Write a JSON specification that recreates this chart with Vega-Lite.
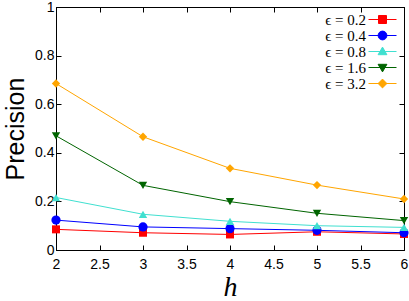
{
  "$schema": "https://vega.github.io/schema/vega-lite/v6.json",
  "width": 348,
  "height": 243,
  "autosize": "none",
  "padding": {"left": 56, "top": 7, "right": 5, "bottom": 51},
  "background": "white",
  "config": {
    "view": {"stroke": "black", "strokeWidth": 1},
    "axis": {
      "grid": false,
      "domainColor": "black",
      "tickColor": "black",
      "tickSize": -5,
      "labelFont": "Liberation Sans",
      "labelFontSize": 14,
      "labelColor": "black",
      "titleColor": "black",
      "titleFontWeight": "normal"
    },
    "legend": {
      "labelFont": "Liberation Serif",
      "labelFontSize": 15,
      "labelColor": "black",
      "padding": 0,
      "rowPadding": 0
    }
  },
  "data": {
    "values": [
      {"h": 2, "eps": "0.2", "precision": 0.085},
      {"h": 3, "eps": "0.2", "precision": 0.071},
      {"h": 4, "eps": "0.2", "precision": 0.064},
      {"h": 5, "eps": "0.2", "precision": 0.075},
      {"h": 6, "eps": "0.2", "precision": 0.066},
      {"h": 2, "eps": "0.4", "precision": 0.123},
      {"h": 3, "eps": "0.4", "precision": 0.095},
      {"h": 4, "eps": "0.4", "precision": 0.088},
      {"h": 5, "eps": "0.4", "precision": 0.081},
      {"h": 6, "eps": "0.4", "precision": 0.071},
      {"h": 2, "eps": "0.8", "precision": 0.216},
      {"h": 3, "eps": "0.8", "precision": 0.147},
      {"h": 4, "eps": "0.8", "precision": 0.118},
      {"h": 5, "eps": "0.8", "precision": 0.100},
      {"h": 6, "eps": "0.8", "precision": 0.093},
      {"h": 2, "eps": "1.6", "precision": 0.470},
      {"h": 3, "eps": "1.6", "precision": 0.266},
      {"h": 4, "eps": "1.6", "precision": 0.199},
      {"h": 5, "eps": "1.6", "precision": 0.151},
      {"h": 6, "eps": "1.6", "precision": 0.121},
      {"h": 2, "eps": "3.2", "precision": 0.685},
      {"h": 3, "eps": "3.2", "precision": 0.466},
      {"h": 4, "eps": "3.2", "precision": 0.336},
      {"h": 5, "eps": "3.2", "precision": 0.267},
      {"h": 6, "eps": "3.2", "precision": 0.210}
    ]
  },
  "layer": [
    {
      "mark": {"type": "line", "strokeWidth": 1},
      "encoding": {
        "x": {
          "field": "h", "type": "quantitative",
          "scale": {"domain": [2, 6], "nice": false},
          "axis": {
            "orient": "bottom",
            "values": [2, 2.5, 3, 3.5, 4, 4.5, 5, 5.5, 6],
            "format": "~g",
            "labelPadding": 12,
            "labelFlush": false,
            "title": "h",
            "titleFont": "Liberation Serif",
            "titleFontStyle": "italic",
            "titleFontSize": 28,
            "titlePadding": 2
          }
        },
        "y": {
          "field": "precision", "type": "quantitative",
          "scale": {"domain": [0, 1], "nice": false},
          "axis": {
            "orient": "left",
            "values": [0, 0.2, 0.4, 0.6, 0.8, 1],
            "format": "~g",
            "labelPadding": 7,
            "labelFlush": false,
            "title": "Precision",
            "titleFont": "Liberation Sans",
            "titleFontSize": 25,
            "titlePadding": 6
          }
        },
        "color": {
          "field": "eps", "type": "nominal",
          "scale": {"domain": ["0.2", "0.4", "0.8", "1.6", "3.2"], "range": ["#ff0000", "#0000ff", "#40e0d0", "#006400", "#ffa500"]},
          "legend": {
            "orient": "top-right",
            "offset": 5,
            "title": null,
            "symbolSize": 64,
            "labelAlign": "right",
            "labelOffset": -24,
            "labelFont": "Liberation Serif",
            "labelFontSize": 15,
            "labelExpr": "'ϵ = ' + datum.label",
            "encode": {
              "symbols": {
                "update": {
                  "shape": {"signal": "datum.value === '0.2' ? 'M-3.5,0H3.5M-1,-1H1V1H-1Z' : datum.value === '0.4' ? 'M-3.5,0H3.5M1.1,0A1.1,1.1 0 1,1 -1.1,0A1.1,1.1 0 1,1 1.1,0Z' : datum.value === '0.8' ? 'M-3.5,0H3.5M0,-1.1L1.1,0.8L-1.1,0.8Z' : datum.value === '1.6' ? 'M-3.5,0H3.5M0,1.1L1.1,-0.8L-1.1,-0.8Z' : 'M-3.5,0H3.5M0,-1.1L1.1,0L0,1.1L-1.1,0Z'"},
                  "size": {"value": 64},
                  "fill": {"signal": "scale('color', datum.value)"},
                  "stroke": {"signal": "scale('color', datum.value)"},
                  "strokeWidth": {"value": 1},
                  "opacity": {"value": 1}
                }
              }
            }
          }
        }
      }
    },
    {
      "transform": [{"filter": "datum.eps === '0.2'"}],
      "mark": {"type": "point", "filled": true, "shape": "square", "size": 64, "opacity": 1},
      "encoding": {
        "x": {"field": "h", "type": "quantitative", "axis": {"orient": "top", "values": [2, 2.5, 3, 3.5, 4, 4.5, 5, 5.5, 6], "labels": false, "title": null}},
        "y": {"field": "precision", "type": "quantitative", "axis": {"orient": "right", "values": [0, 0.2, 0.4, 0.6, 0.8, 1], "labels": false, "title": null}},
        "color": {"field": "eps", "type": "nominal"}
      }
    },
    {
      "transform": [{"filter": "datum.eps === '0.4'"}],
      "mark": {"type": "point", "filled": true, "shape": "circle", "size": 85, "opacity": 1},
      "encoding": {
        "x": {"field": "h", "type": "quantitative", "axis": null},
        "y": {"field": "precision", "type": "quantitative", "axis": null},
        "color": {"field": "eps", "type": "nominal"}
      }
    },
    {
      "transform": [{"filter": "datum.eps === '0.8'"}],
      "mark": {"type": "point", "filled": true, "shape": "triangle-up", "size": 70, "opacity": 1},
      "encoding": {
        "x": {"field": "h", "type": "quantitative", "axis": null},
        "y": {"field": "precision", "type": "quantitative", "axis": null},
        "color": {"field": "eps", "type": "nominal"}
      }
    },
    {
      "transform": [{"filter": "datum.eps === '1.6'"}],
      "mark": {"type": "point", "filled": true, "shape": "triangle-down", "size": 70, "opacity": 1},
      "encoding": {
        "x": {"field": "h", "type": "quantitative", "axis": null},
        "y": {"field": "precision", "type": "quantitative", "axis": null},
        "color": {"field": "eps", "type": "nominal"}
      }
    },
    {
      "transform": [{"filter": "datum.eps === '3.2'"}],
      "mark": {"type": "point", "filled": true, "shape": "diamond", "size": 70, "opacity": 1},
      "encoding": {
        "x": {"field": "h", "type": "quantitative", "axis": null},
        "y": {"field": "precision", "type": "quantitative", "axis": null},
        "color": {"field": "eps", "type": "nominal"}
      }
    }
  ],
  "resolve": {"axis": {"x": "independent", "y": "independent"}}
}
